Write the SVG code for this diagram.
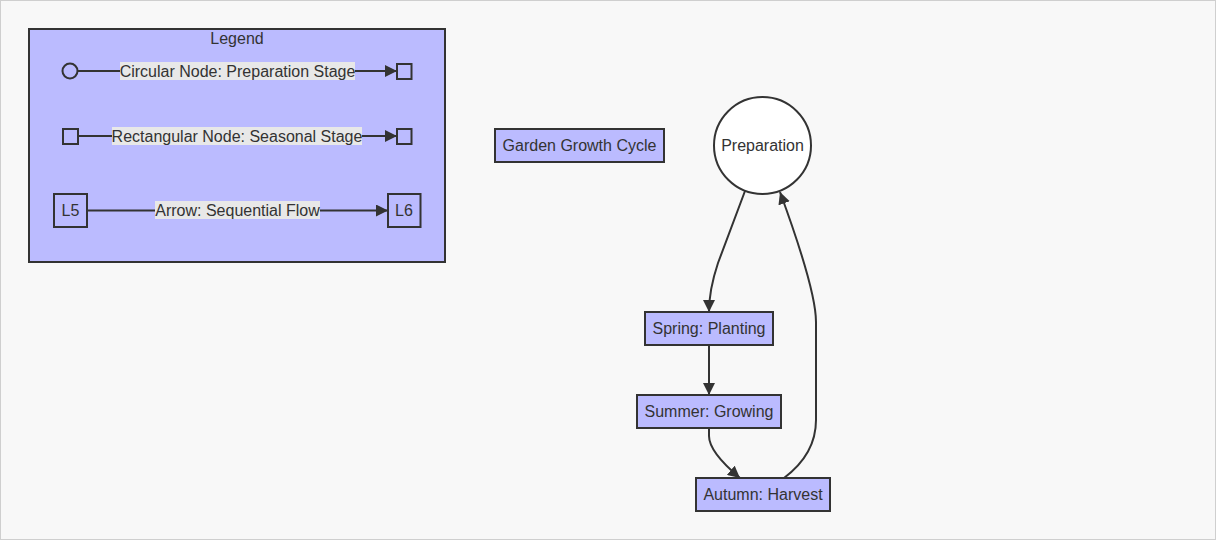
<svg xmlns="http://www.w3.org/2000/svg" width="1216" height="540" viewBox="0 0 1216 540">
<style>
text{font-family:"Liberation Sans",Arial,sans-serif;font-size:16px;fill:#333;text-anchor:middle;dominant-baseline:central}
.node{fill:#bbbbff;stroke:#333;stroke-width:2}
.edge{fill:none;stroke:#333;stroke-width:2}
.lbl{fill:#e8e8e8}
</style>
<defs>
<marker id="arr" viewBox="0 0 10 10" refX="10" refY="5" markerUnits="userSpaceOnUse" markerWidth="12" markerHeight="12" orient="auto">
<path d="M0,0 L10,5 L0,10 z" fill="#333"/>
</marker>
</defs>
<rect x="0.5" y="0.5" width="1215" height="539" fill="#f8f8f8" stroke="#cfcfcf"/>
<g id="legend">
<rect x="29" y="29" width="416" height="233" class="node"/>
<text x="237" y="38">Legend</text>
</g>
<g id="connectors">
<path class="edge" d="M78,71 L397,71" marker-end="url(#arr)"/>
<path class="edge" d="M78,136 L397,136" marker-end="url(#arr)"/>
<path class="edge" d="M87,210.5 L388,210.5" marker-end="url(#arr)"/>
<path class="edge" d="M745,191 L718,263 Q709,290 709,312" marker-end="url(#arr)"/>
<path class="edge" d="M709,345 L709,395" marker-end="url(#arr)"/>
<path class="edge" d="M709,428 L709,436 Q709,452 740,478" marker-end="url(#arr)"/>
<path class="edge" d="M784,478 Q816,454 816,420 L816,322 Q816,290 780,192" marker-end="url(#arr)"/>
</g>
<g id="legend-labels">
<rect x="120" y="62" width="235" height="18" class="lbl"/>
<text x="237.5" y="71">Circular Node: Preparation Stage</text>
<rect x="112" y="127" width="250" height="18" class="lbl"/>
<text x="237" y="136">Rectangular Node: Seasonal Stage</text>
<rect x="155" y="201" width="165" height="18" class="lbl"/>
<text x="237.5" y="210">Arrow: Sequential Flow</text>
</g>
<g id="L1"><circle cx="70" cy="71" r="7.5" class="node"/></g>
<g id="L2"><rect x="397" y="64" width="14.5" height="15" class="node"/></g>
<g id="L3"><rect x="63" y="129" width="15" height="15" class="node"/></g>
<g id="L4"><rect x="397" y="129" width="14.5" height="15" class="node"/></g>
<g id="L5"><rect x="54" y="194" width="33" height="33" class="node"/><text x="70.5" y="210.5">L5</text></g>
<g id="L6"><rect x="388" y="194" width="32.5" height="33" class="node"/><text x="404" y="210.5">L6</text></g>
<g id="title"><rect x="495" y="129" width="169" height="33" class="node"/><text x="579.5" y="145.5">Garden Growth Cycle</text></g>
<g id="prep"><circle cx="762.5" cy="145.5" r="48.5" fill="#fff" stroke="#333" stroke-width="2"/><text x="762.5" y="145.5">Preparation</text></g>
<g id="spring"><rect x="645" y="312" width="128" height="33" class="node"/><text x="709" y="328.5">Spring: Planting</text></g>
<g id="summer"><rect x="637" y="395" width="144" height="33" class="node"/><text x="709" y="411.5">Summer: Growing</text></g>
<g id="autumn"><rect x="696" y="478" width="134" height="33" class="node"/><text x="763" y="494.5">Autumn: Harvest</text></g>
</svg>
